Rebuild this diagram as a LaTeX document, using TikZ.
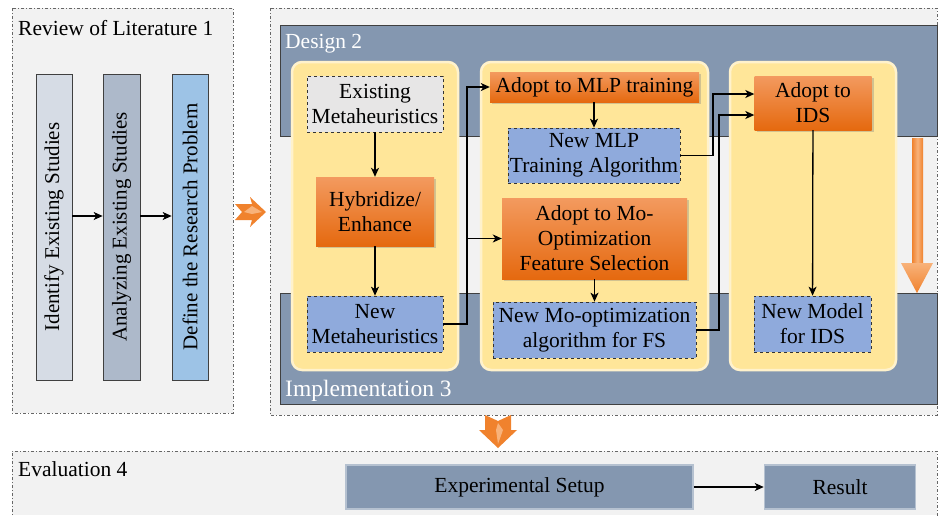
\documentclass[tikz,border=0pt]{standalone}
\usepackage{fontspec}
\setmainfont{Liberation Serif}
\usetikzlibrary{arrows.meta,shadows,calc}
\definecolor{bgg}{HTML}{F2F2F2}
\definecolor{band}{HTML}{8497B0}
\definecolor{pan}{HTML}{FFE699}
\definecolor{panb}{HTML}{FFF2CC}
\definecolor{orT}{HTML}{F39A5F}
\definecolor{orB}{HTML}{E5690F}
\definecolor{blu}{HTML}{8FAADC}
\definecolor{gry}{HTML}{E7E6E6}
\definecolor{barA}{HTML}{D6DCE5}
\definecolor{barB}{HTML}{ADB9CA}
\definecolor{barC}{HTML}{9DC3E6}
\definecolor{arr}{HTML}{F0822D}
\definecolor{arrL}{HTML}{F8B27A}
\tikzset{
  every node/.style={font=\fontsize{21.5}{25}\selectfont, align=center, inner sep=0pt},
  phase/.style={draw=black!60, dash pattern=on 3pt off 2pt on 1pt off 2pt, line width=0.7pt},
  panel/.style={fill=pan, draw=panb, line width=2.5pt, rounded corners=10pt},
  orbox/.style={top color=orT, bottom color=orB, draw=none, drop shadow={opacity=0.35, shadow xshift=2pt, shadow yshift=-2pt}},
  bluebox/.style={fill=blu, draw=black!80, dashed, line width=0.7pt},
  graybox/.style={fill=gry, draw=black!80, dashed, line width=0.7pt},
  barbox/.style={draw=black!75, line width=0.7pt, minimum width=36pt, minimum height=306pt},
  evbox/.style={fill=band, draw=band!60!white, line width=1.5pt, minimum height=44pt},
  conn/.style={line width=1.3pt, -{Stealth[length=9pt,width=8pt,inset=2.5pt]}},
  wlabel/.style={text=white, anchor=west}
}
\begin{document}
\begin{tikzpicture}[x=1pt,y=-1pt]
\useasboundingbox (0,0) rectangle (939,515);
\fill[white] (0,0) rectangle (939,515);
% phase boxes
\draw[phase, fill=bgg] (12,8) rectangle (233,413);
\draw[phase, fill=bgg] (270,8) rectangle (937,415);
\fill[bgg] (12,451) rectangle (937,515);
\draw[phase] (12,520) -- (12,451) -- (937,451) -- (937,520);
\node[anchor=west] (t1) at (18,28) {Review of Literature 1};
\node[anchor=west] (t4) at (18,469) {Evaluation 4};
% bars
\node[barbox, fill=barA] (b1) at (54,227) {};
\node[barbox, fill=barB, minimum width=37pt] (b2) at (121.5,227) {};
\node[barbox, fill=barC] (b3) at (190,227) {};
\node[rotate=90, font=\fontsize{21}{24}\selectfont] at (b1) {Identify Existing Studies};
\node[rotate=90, font=\fontsize{21}{24}\selectfont] at (b2) {Analyzing Existing Studies};
\node[rotate=90, font=\fontsize{21}{24}\selectfont] at (b3) {Define the Research Problem};
\draw[conn] (b1.east |- 0,216) -- (b2.west |- 0,216);
\draw[conn] (b2.east |- 0,216) -- (b3.west |- 0,216);
% bands
\draw[fill=band, draw=black!75, line width=0.8pt] (937,136) -- (280,136) -- (280,25) -- (937,25) -- cycle;
\draw[fill=band, draw=black!75, line width=0.8pt] (937,293) -- (280,293) -- (280,404) -- (937,404) -- cycle;
\node[wlabel] (d2) at (285,44) {Design 2};
\node[wlabel, font=\fontsize{23.5}{26}\selectfont] (i3) at (285,391) {Implementation 3};
% panels
\draw[panel] (292,62) rectangle (458,370);
\draw[panel] (481,62) rectangle (708,370);
\draw[panel] (730,62) rectangle (896,370);
% panel 1
\node[graybox, minimum width=136pt, minimum height=56pt] (em) at (375,104) {Existing\\Metaheuristics};
\node[orbox, minimum width=118pt, minimum height=69pt] (hy) at (375,211.5) {Hybridize/\\Enhance};
\node[bluebox, minimum width=136pt, minimum height=56pt] (nm) at (375,324) {New\\Metaheuristics};
\draw[conn] (em) -- (hy);
\draw[conn] (hy) -- (nm);
% panel 2
\node[orbox, minimum width=209pt, minimum height=30pt] (am) at (594.5,87) {Adopt to MLP training};
\node[bluebox, minimum width=172pt, minimum height=55pt] (nt) at (594,155.5) {New MLP\\Training Algorithm};
\node[orbox, minimum width=185pt, minimum height=81pt] (ao) at (594.5,238.5) {Adopt to Mo-\\Optimization\\Feature Selection};
\node[bluebox, minimum width=203pt, minimum height=56pt] (no) at (594.5,330) {New Mo-optimization\\algorithm for FS};
\draw[conn] (am.south -| nt) -- (nt);
\draw[conn] (ao.south -| no) -- (no);
% panel 3
\node[orbox, minimum width=117pt, minimum height=54pt] (ai) at (813,103) {Adopt to\\IDS};
\node[bluebox, minimum width=117pt, minimum height=56pt] (nd) at (812.5,324) {New Model\\for IDS};
\draw[conn] (ai) -- (nd);
% junctions
\coordinate (j1) at (467,0);
\coordinate (j2) at (713,0);
\coordinate (j3) at (719,0);
\draw[conn] (nm.east) -- (nm.east -| j1) |- (am.west);
\draw[conn] (j1 |- ao.west) -- (ao.west);
\draw[conn] (nt.east) -- (nt.east -| j2) |- ([yshift=9pt]ai.west);
\draw[conn] (no.east) -- (no.east -| j3) |- ([yshift=-12pt]ai.west);
% evaluation
\node[evbox, minimum width=347pt] (es) at (519.5,487) {Experimental Setup};
\node[evbox, minimum width=151pt] (rs) at (840,487) {Result};
\draw[conn] (es) -- (rs);
% orange block arrows
\fill[arr] (235,204) -- (252,204) -- (250,197) -- (266,212) -- (250,227) -- (252,220) -- (235,220) -- (242,212) -- cycle;
\fill[arrL] (244,212) -- (252,206) -- (262,212) -- (252,214) -- cycle;
\fill[arr] (485,415) -- (485,430) -- (479,430) -- (498,448) -- (517,430) -- (511,430) -- (511,415) -- (498,421) -- cycle;
\fill[arrL] (498,423) -- (503,430) -- (498,444) -- (496,430) -- cycle;
\shade[left color=arr, right color=arr, middle color=arrL] (912,138) rectangle (923,265);
\shade[top color=arrL, bottom color=arr] (901,263) -- (933,263) -- (917,293) -- cycle;
\end{tikzpicture}
\end{document}
